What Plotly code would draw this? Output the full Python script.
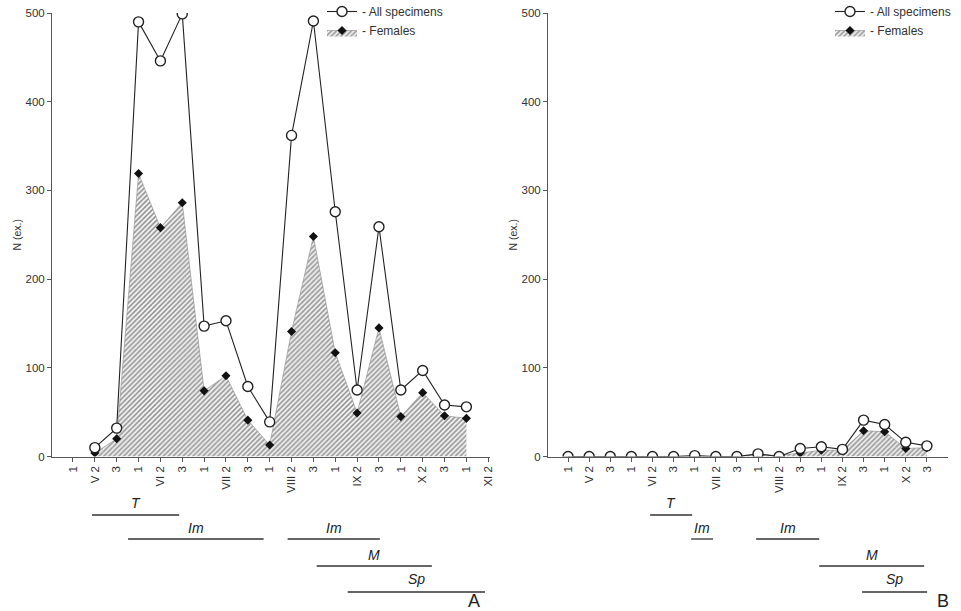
import plotly.graph_objects as go

# ---------------- data ----------------
ticks_A = ["1", "V 2", "3", "1", "VI 2", "3", "1", "VII 2", "3", "1", "VIII 2", "3",
           "1", "IX 2", "3", "1", "X 2", "3", "1", "XI 2"]
all_A = [None, 10, 32, 490, 446, 499, 147, 153, 79, 39, 362, 491, 276, 75, 259, 75, 97, 58, 56, None]
fem_A = [None, 4, 20, 319, 258, 286, 74, 91, 41, 13, 141, 248, 117, 49, 145, 45, 72, 46, 43, None]

ticks_B = ["1", "V 2", "3", "1", "VI 2", "3", "1", "VII 2", "3", "1", "VIII 2", "3",
           "1", "IX 2", "3", "1", "X 2", "3"]
all_B = [0, 0, 0, 0, 0, 0, 1, 0, 0, 3, 0, 9, 11, 8, 41, 36, 16, 12]
fem_B = [0, 0, 0, 0, 0, 0, 0, 0, 0, 2, 1, 4, 7, 7, 29, 28, 9, 10]

# phases: (label, start index, end index, row)
phase_names_A = ["T", "Im", "Im", "M", "Sp"]
phase_start_A = [0.87, 2.52, 9.82, 11.15, 12.57]
phase_end_A = [4.86, 8.72, 14.04, 16.42, 18.85]
phase_row_A = [0, 1, 1, 2, 3]

phase_names_B = ["T", "Im", "Im", "M", "Sp"]
phase_start_B = [3.89, 5.83, 8.91, 11.9, 13.93]
phase_end_B = [5.88, 6.87, 11.9, 16.87, 17.01]
phase_row_B = [0, 1, 1, 2, 3]

# ---------------- style ----------------
W, H = 961, 611
FONT = "Liberation Sans, Arial, sans-serif"
TXT = "#333333"
AX = "#555555"

def py(p):  # pixel y -> paper
    return (H - p) / H

def px(p):
    return p / W

line_rows_y = [515, 539, 566, 592]
label_rows_y = [503, 528, 555, 579]

fig = go.Figure()

def add_panel(xs_ticks, all_v, fem_v, xa, ya, legend):
    x = list(range(len(xs_ticks)))
    xf = [xi for xi, v in zip(x, fem_v) if v is not None]
    yf = [v for v in fem_v if v is not None]
    fig.add_trace(go.Scatter(
        x=xf, y=yf, mode="lines+markers", name="- Females",
        xaxis=xa, yaxis=ya, legend=legend,
        fill="tozeroy", fillcolor="rgba(0,0,0,0)",
        fillpattern=dict(shape="/", fgcolor="#2e2e2e", bgcolor="#f4f4f4", size=3.5, solidity=0.45),
        line=dict(color="#8a8a8a", width=0.6),
        marker=dict(symbol="diamond", size=7, color="#111111"),
        legendrank=2,
    ))
    xa_ = [xi for xi, v in zip(x, all_v) if v is not None]
    ya_ = [v for v in all_v if v is not None]
    fig.add_trace(go.Scatter(
        x=xa_, y=ya_, mode="lines+markers", name="- All specimens",
        xaxis=xa, yaxis=ya, legend=legend,
        line=dict(color="#222222", width=1.1),
        marker=dict(symbol="circle", size=10, color="white",
                    line=dict(color="#222222", width=1.4)),
        legendrank=1,
    ))

add_panel(ticks_A, all_A, fem_A, "x", "y", "legend")
add_panel(ticks_B, all_B, fem_B, "x2", "y2", "legend2")

def phases(names, starts, ends, rows, xref):
    for n, s, e, r in zip(names, starts, ends, rows):
        fig.add_shape(type="line", xref=xref, yref="paper",
                      x0=s, x1=e, y0=py(line_rows_y[r]), y1=py(line_rows_y[r]),
                      line=dict(color="#333333", width=1.3))
        fig.add_annotation(xref=xref, yref="paper", x=(s + e) / 2, y=py(label_rows_y[r]),
                           xanchor="center", yanchor="middle",
                           text="<i>%s</i>" % n, showarrow=False,
                           font=dict(family=FONT, size=14, color="#222222"))

phases(phase_names_A, phase_start_A, phase_end_A, phase_row_A, "x")
phases(phase_names_B, phase_start_B, phase_end_B, phase_row_B, "x2")

for lab, xx in (("A", 474), ("B", 943)):
    fig.add_annotation(xref="paper", yref="paper", x=px(xx), y=py(601), text=lab,
                       xanchor="center", yanchor="middle",
                       showarrow=False, font=dict(family=FONT, size=18, color="#222222"))

ydom = [py(456.5), py(13)]
common_x = dict(showline=True, linecolor=AX, linewidth=1, ticks="outside", ticklen=4,
                tickcolor=AX, tickangle=-90, showgrid=False, zeroline=False, automargin=False,
                tickfont=dict(family=FONT, size=11.5, color=TXT))
common_y = dict(range=[0, 500], showline=True, linecolor=AX, linewidth=1, ticks="outside",
                ticklen=4, tickcolor=AX, showgrid=False, zeroline=False, automargin=False,
                tickvals=[0, 100, 200, 300, 400, 500], domain=ydom,
                tickfont=dict(family=FONT, size=11.5, color=TXT),
                title=dict(text="N (ex.)", standoff=1,
                           font=dict(family=FONT, size=10.5, color=TXT)))

leg = dict(xanchor="left", yanchor="top", bgcolor="rgba(0,0,0,0)",
           xref="paper", yref="paper",
           font=dict(family=FONT, size=12, color=TXT), itemwidth=30,
           tracegroupgap=0, traceorder="normal", borderwidth=0)

fig.update_layout(
    width=W, height=H, margin=dict(l=0, r=0, t=0, b=0, pad=0, autoexpand=False),
    paper_bgcolor="white", plot_bgcolor="white",
    xaxis=dict(common_x, domain=[px(52), px(490)], range=[-0.96, 19.08],
               tickvals=list(range(len(ticks_A))), ticktext=ticks_A, anchor="y"),
    yaxis=dict(common_y, anchor="x"),
    xaxis2=dict(common_x, domain=[px(548), px(948)], range=[-0.95, 18.0],
                tickvals=list(range(len(ticks_B))), ticktext=ticks_B, anchor="y2"),
    yaxis2=dict(common_y, anchor="x2"),
    legend=dict(leg, x=px(322), y=py(-3)),
    legend2=dict(leg, x=px(830), y=py(-3)),
    showlegend=True,
)

fig.write_html("out.html")
